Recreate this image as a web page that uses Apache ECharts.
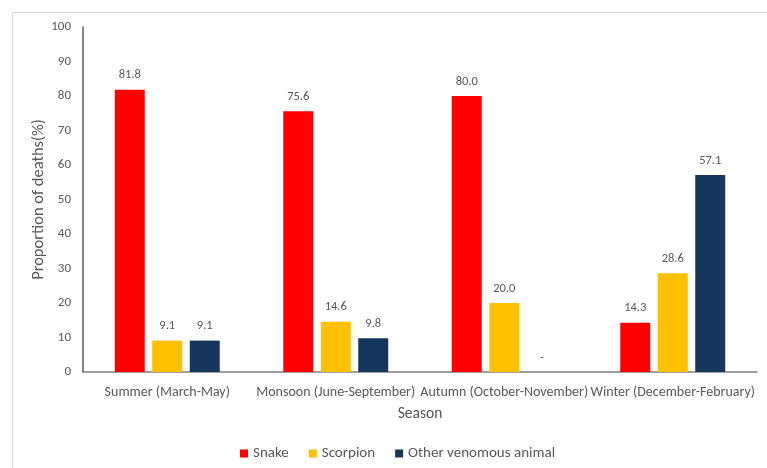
<!DOCTYPE html>
<html>
<head>
<meta charset="utf-8">
<script src="https://cdn.jsdelivr.net/npm/echarts@6/dist/echarts.min.js"></script>
<style>
  html, body { margin: 0; padding: 0; background: #fff; }
  #chart { width: 767px; height: 468px; }
</style>
</head>
<body>
<div id="chart"></div>
<script>
const seasons = ['Summer (March-May)', 'Monsoon (June-September)', 'Autumn (October-November)', 'Winter (December-February)'];
const snake = [81.8, 75.6, 80.0, 14.3];
const scorpion = [9.1, 14.6, 20.0, 28.6];
const otherAnimal = [9.1, 9.8, 0, 57.1];
const yTicks = { min: 0, max: 100, step: 10 };

const fontFamily = 'Carlito, "Open Sans", "Noto Sans", sans-serif';
const textColor = '#595959';

function barSeries(name, data, color) {
  return {
    name: name,
    type: 'bar',
    data: data,
    barWidth: '17.8%',
    barGap: '25%',
    itemStyle: { color: color },
    label: {
      show: true,
      position: 'top',
      distance: 8,
      color: textColor,
      fontFamily: fontFamily,
      fontSize: 12.5,
      formatter: p => (p.value === 0 ? '-' : p.value.toFixed(1))
    }
  };
}

const chart = echarts.init(document.getElementById('chart'));
chart.setOption({
  animation: false,
  textStyle: { fontFamily: fontFamily },
  graphic: [{
    type: 'rect',
    shape: { x: 12.5, y: 12.5, width: 800, height: 500 },
    style: { fill: 'none', stroke: '#d9d9d9', lineWidth: 1 },
    silent: true
  }],
  grid: { left: 83, top: 27, right: 10, bottom: 96 },
  legend: {
    bottom: 2,
    left: 235,
    itemWidth: 8,
    itemHeight: 8,
    itemGap: 20,
    icon: 'rect',
    textStyle: { color: textColor, fontSize: 15, fontFamily: fontFamily },
    data: ['Snake', 'Scorpion', 'Other venomous animal']
  },
  xAxis: {
    type: 'category',
    data: seasons,
    name: 'Season',
    nameLocation: 'middle',
    nameGap: 34,
    nameTextStyle: { color: textColor, fontSize: 15.5, fontFamily: fontFamily },
    axisLine: { lineStyle: { color: '#808080', width: 1.5 } },
    axisTick: { show: false },
    axisLabel: { color: textColor, fontSize: 14, margin: 13, interval: 0, fontFamily: fontFamily }
  },
  yAxis: {
    type: 'value',
    min: yTicks.min,
    max: yTicks.max,
    interval: yTicks.step,
    name: 'Proportion of deaths(%)',
    nameLocation: 'middle',
    nameGap: 36,
    nameMoveOverlap: false,
    nameTextStyle: { color: textColor, fontSize: 16.5, fontFamily: fontFamily },
    axisLine: { show: true, lineStyle: { color: '#595959', width: 1.5 } },
    axisTick: { show: false },
    splitLine: { show: false },
    axisLabel: { color: textColor, fontSize: 13, margin: 12, fontFamily: fontFamily }
  },
  series: [
    barSeries('Snake', snake, '#FF0000'),
    barSeries('Scorpion', scorpion, '#FFC000'),
    barSeries('Other venomous animal', otherAnimal, '#17365D')
  ]
});
</script>
</body>
</html>
